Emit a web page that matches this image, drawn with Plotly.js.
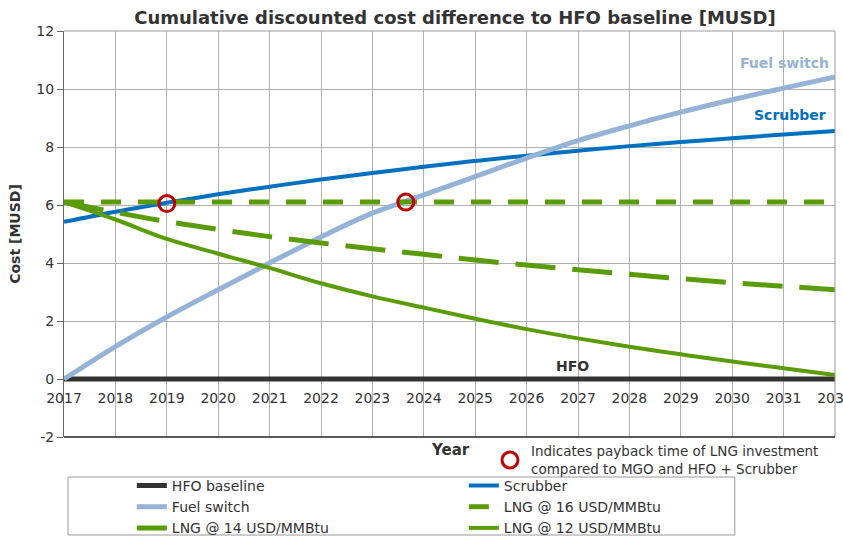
<!DOCTYPE html>
<html><head><meta charset="utf-8">
<script src="https://cdn.plot.ly/plotly-3.0.1.min.js"></script>
<style>html,body{margin:0;padding:0;background:#fff}#chart{width:843px;height:540px}</style>
</head><body><div id="chart"></div>
<script>
const years = [2017,2018,2019,2020,2021,2022,2023,2024,2025,2026,2027,2028,2029,2030,2031,2032];
const hfoBaseline = [0,0,0,0,0,0,0,0,0,0,0,0,0,0,0,0];
const scrubber = [5.42,5.77,6.08,6.37,6.63,6.88,7.1,7.32,7.52,7.7,7.87,8.03,8.17,8.3,8.43,8.55];
const fuelSwitch = [0,1.12,2.14,3.08,4.0,4.9,5.72,6.35,6.98,7.62,8.22,8.73,9.2,9.63,10.03,10.42];
const lng16 = [6.1,6.1,6.1,6.1,6.1,6.1,6.1,6.1,6.1,6.1,6.1,6.1,6.1,6.1,6.1,6.1];
const lng14 = [6.1,5.75,5.43,5.16,4.91,4.69,4.49,4.3,4.1,3.93,3.77,3.61,3.46,3.32,3.2,3.08];
const lng12 = [6.1,5.5,4.83,4.32,3.83,3.3,2.85,2.46,2.08,1.72,1.4,1.11,0.85,0.6,0.37,0.14];
const paybackX = [2019, 2023.65];
const paybackY = [6.05, 6.1];
const yTicks = [-2,0,2,4,6,8,10,12];
const yTickText = ['-2','0','2','4','6','8','10','12'];

const green = '#5a9c08';
const F = 'DejaVu Sans, Verdana, sans-serif';

const traces = [
  {x: years, y: hfoBaseline, name: 'HFO baseline', mode: 'lines', line: {color: '#333333', width: 5}},
  {x: years, y: scrubber, name: 'Scrubber', mode: 'lines', line: {color: '#0070c0', width: 4, shape: 'spline'}},
  {x: years, y: fuelSwitch, name: 'Fuel switch', mode: 'lines', line: {color: '#95b3d7', width: 5, shape: 'spline'}},
  {x: years, y: lng16, name: 'LNG @ 16 USD/MMBtu', mode: 'lines', line: {color: green, width: 5, dash: '20px,17px'}},
  {x: years, y: lng14, name: 'LNG @ 14 USD/MMBtu', mode: 'lines', line: {color: green, width: 5, dash: '40px,17px', shape: 'spline'}},
  {x: years, y: lng12, name: 'LNG @ 12 USD/MMBtu', mode: 'lines', line: {color: green, width: 4, shape: 'spline'}},
  {x: paybackX, y: paybackY, mode: 'markers', showlegend: false, hoverinfo: 'skip',
   marker: {symbol: 'circle-open', size: 16, color: '#c00000', line: {width: 3, color: '#c00000'}}}
];

const layout = {
  width: 843, height: 540,
  margin: {l: 64, r: 8, t: 31, b: 103, autoexpand: false},
  paper_bgcolor: '#ffffff', plot_bgcolor: '#ffffff',
  font: {family: F, color: '#333333', size: 14},
  title: {text: '<b>Cumulative discounted cost difference to HFO baseline [MUSD]</b>',
          font: {family: F, size: 18, color: '#333333'}, xref: 'paper', x: 0.507, xanchor: 'center',
          yref: 'container', y: 0.968, yanchor: 'middle'},
  xaxis: {range: [2017, 2032], tick0: 2017, dtick: 1, anchor: 'free', position: 2/14,
          showgrid: true, gridcolor: '#b0b0b0', gridwidth: 1, zeroline: false, showline: false,
          ticks: 'outside', ticklen: 6, tickcolor: 'rgba(0,0,0,0)', ticklabeloverflow: 'allow',
          tickfont: {family: F, size: 14, color: '#333333'}},
  yaxis: {range: [-2, 12], tickvals: yTicks, ticktext: yTickText, showgrid: true, gridcolor: '#b0b0b0', gridwidth: 1,
          zeroline: false, showline: true, linecolor: '#666666', linewidth: 1,
          ticks: 'outside', ticklen: 6, tickcolor: '#666666',
          tickfont: {family: F, size: 14, color: '#333333'},
          title: {text: '<b>Cost [MUSD]</b>', font: {family: F, size: 14, color: '#333333'}, standoff: 12}},
  showlegend: true,
  legend: {orientation: 'h', x: 0.088, xanchor: 'left', y: -0.081, yanchor: 'top',
           bgcolor: 'rgba(0,0,0,0)', borderwidth: 0, entrywidth: 287, entrywidthmode: 'pixels',
           font: {family: F, size: 14, color: '#333333'}, tracegroupgap: 0},
  shapes: [
    {type: 'line', xref: 'paper', yref: 'paper', x0: 0, x1: 1, y0: 1, y1: 1, line: {color: '#999999', width: 1}},
    {type: 'line', xref: 'paper', yref: 'paper', x0: 1, x1: 1, y0: 0, y1: 1, line: {color: '#999999', width: 1}},
    {type: 'line', xref: 'paper', yref: 'paper', x0: 0, x1: 1, y0: 0, y1: 0, line: {color: '#222222', width: 1.5}},
    {type: 'rect', xref: 'paper', yref: 'paper', x0: 0.0052, x1: 0.870, y0: (437-535)/406, y1: (437-477)/406,
     line: {color: '#999999', width: 1}, fillcolor: 'rgba(0,0,0,0)'},
    {type: 'circle', xref: 'paper', yref: 'paper', x0: (502-64)/771, x1: (518-64)/771,
     y0: (437-468)/406, y1: (437-452)/406, line: {color: '#c00000', width: 3}}
  ],
  annotations: [
    {text: '<b>Fuel switch</b>', xref: 'paper', yref: 'y', x: (831-64)/771, y: 10.9, xanchor: 'right', yanchor: 'middle',
     showarrow: false, font: {family: F, size: 14, color: '#95b3d7'}},
    {text: '<b>Scrubber</b>', xref: 'paper', yref: 'y', x: (828-64)/771, y: 9.1, xanchor: 'right', yanchor: 'middle',
     showarrow: false, font: {family: F, size: 14, color: '#0070c0'}},
    {text: '<b>HFO</b>', xref: 'x', yref: 'y', x: 2026.9, y: 0.45, xanchor: 'center', yanchor: 'middle',
     showarrow: false, font: {family: F, size: 14, color: '#333333'}},
    {text: '<b>Year</b>', xref: 'paper', yref: 'paper', x: (450-64)/771, y: (437-450)/406, xanchor: 'center', yanchor: 'middle',
     showarrow: false, font: {family: F, size: 15, color: '#333333'}},
    {text: 'Indicates payback time of LNG investment<br>compared to MGO and HFO + Scrubber', xref: 'paper', yref: 'paper',
     x: (529-64)/771, y: (437-460)/406, xanchor: 'left', yanchor: 'middle', align: 'left',
     showarrow: false, font: {family: F, size: 13.5, color: '#333333'}}
  ]
};

Plotly.newPlot('chart', traces, layout, {displayModeBar: false, staticPlot: true});
</script></body></html>
